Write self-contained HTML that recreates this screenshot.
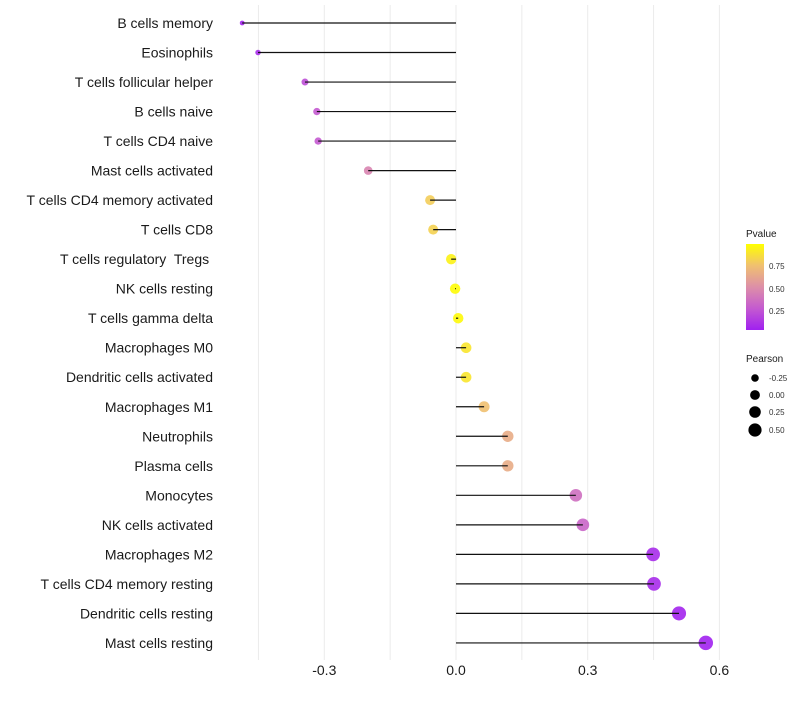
<!DOCTYPE html>
<html><head><meta charset="utf-8"><style>
body{margin:0;background:#fff;width:800px;height:700px;overflow:hidden}
svg text{font-family:"Liberation Sans",sans-serif;white-space:pre}
</style></head><body>
<svg id="chart" width="800" height="700">
<defs><linearGradient id="pg" x1="0" y1="1" x2="0" y2="0">
<stop offset="0" stop-color="#a020f0"/><stop offset="0.25" stop-color="#c45ad0"/><stop offset="0.5" stop-color="#dd8fa8"/><stop offset="0.75" stop-color="#f0c070"/><stop offset="1" stop-color="#ffff00"/></linearGradient></defs>
<g id="grid"></g><g id="marks"></g><g id="labels"></g>
<g>
<text x="746" y="237" font-size="10" fill="#1a1a1a">Pvalue</text>
<rect x="746" y="244" width="18" height="86" fill="url(#pg)"/>
<text x="769" y="269" font-size="8" fill="#333">0.75</text>
<text x="769" y="292" font-size="8" fill="#333">0.50</text>
<text x="769" y="314" font-size="8" fill="#333">0.25</text>
</g>
<g>
<text x="746" y="362" font-size="10" fill="#1a1a1a">Pearson</text>
<circle cx="755" cy="378" r="3.8"/><text x="769" y="381" font-size="8" fill="#333">-0.25</text>
<circle cx="755" cy="395" r="4.9"/><text x="769" y="398" font-size="8" fill="#333">0.00</text>
<circle cx="755" cy="412" r="5.8"/><text x="769" y="415" font-size="8" fill="#333">0.25</text>
<circle cx="755" cy="430" r="6.6"/><text x="769" y="433" font-size="8" fill="#333">0.50</text>
</g>
</svg>
<script>
const categories=["B cells memory","Eosinophils","T cells follicular helper","B cells naive","T cells CD4 naive","Mast cells activated","T cells CD4 memory activated","T cells CD8","T cells regulatory  Tregs ","NK cells resting","T cells gamma delta","Macrophages M0","Dendritic cells activated","Macrophages M1","Neutrophils","Plasma cells","Monocytes","NK cells activated","Macrophages M2","T cells CD4 memory resting","Dendritic cells resting","Mast cells resting"];
const pearson=[-0.487,-0.451,-0.344,-0.317,-0.314,-0.200,-0.059,-0.052,-0.011,-0.002,0.005,0.023,0.023,0.064,0.118,0.118,0.273,0.289,0.449,0.451,0.508,0.569];
const pvalue=[0.02,0.05,0.2,0.25,0.25,0.45,0.8,0.82,0.95,0.99,0.98,0.9,0.9,0.75,0.65,0.65,0.35,0.3,0.05,0.05,0.02,0.01];
const ticks=[-0.3,0,0.3,0.6];
const tickLabels=["-0.3","0.0","0.3","0.6"];
const gridVals=[-0.45,-0.3,-0.15,0,0.15,0.3,0.45,0.6];
const NS="http://www.w3.org/2000/svg";
const x=v=>456+v*439;
const y=i=>23+i*29.52;
const rad=v=>Math.max(1.5,Math.sqrt(Math.max(0,44*(v+0.62))));
const stops=[[0,[160,32,240]],[0.25,[196,90,208]],[0.5,[221,143,168]],[0.75,[240,192,112]],[1,[255,255,0]]];
function col(p){for(let k=1;k<stops.length;k++){if(p<=stops[k][0]){const a=stops[k-1],b=stops[k],t=(p-a[0])/(b[0]-a[0]);return"rgb("+a[1].map((c,j)=>Math.round(c+(b[1][j]-c)*t)).join(",")+")";}}return"rgb(255,255,0)";}
function mk(tag,attrs,parent){const e=document.createElementNS(NS,tag);for(const k in attrs)e.setAttribute(k,attrs[k]);document.getElementById(parent).appendChild(e);return e;}
gridVals.forEach(g=>{const l=mk("line",{x1:x(g),x2:x(g),y1:5,y2:660,stroke:"#ebebeb","stroke-width":1},"grid");

});
ticks.forEach((t,i)=>{const tx=mk("text",{x:x(t),y:675,"font-size":14,"text-anchor":"middle",fill:"#1a1a1a"},"labels");tx.textContent=tickLabels[i];

});
categories.forEach((c,i)=>{
const t=mk("text",{x:213,y:y(i)+5,"font-size":14,"text-anchor":"end",fill:"#1a1a1a"},"labels");t.textContent=c;


const p=mk("circle",{cx:x(pearson[i]),cy:y(i),r:rad(pearson[i]),fill:col(pvalue[i]),"fill-opacity":0.9},"marks");


const l=mk("line",{x1:x(0),x2:x(pearson[i]),y1:y(i),y2:y(i),stroke:"#111","stroke-width":1.2},"marks");


});
</script>
</body></html>
